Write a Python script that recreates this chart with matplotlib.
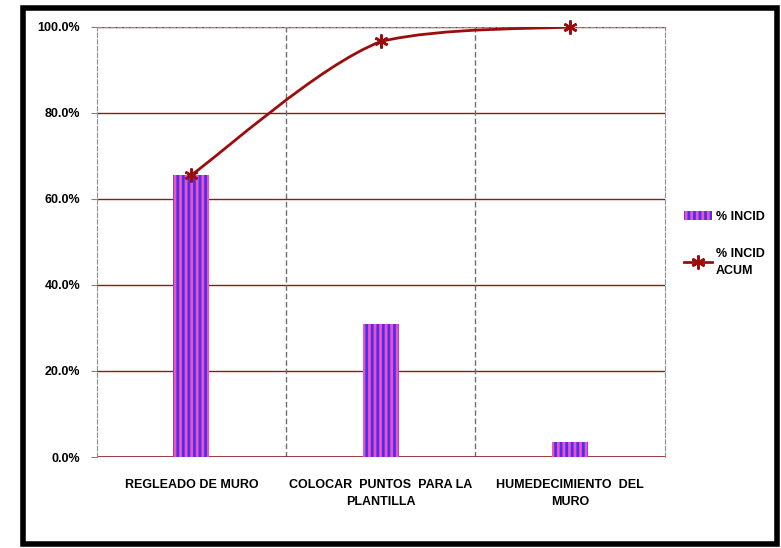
import matplotlib
matplotlib.use("Agg")
import matplotlib.pyplot as plt
from matplotlib.patches import Rectangle
from matplotlib.path import Path
from matplotlib.patches import PathPatch
import numpy as np

plt.rcParams['font.family'] = ['Liberation Sans', 'DejaVu Sans']
plt.rcParams['hatch.linewidth'] = 2.0

categorias = ["REGLEADO DE MURO", "COLOCAR  PUNTOS  PARA LA\nPLANTILLA", "HUMEDECIMIENTO  DEL\nMURO"]
incid = [65.6, 31.0, 3.4]
incid_acum = [65.6, 96.6, 100.0]
yticks = [0, 20, 40, 60, 80, 100]

fig = plt.figure(figsize=(7.81, 5.48), dpi=100)
ax = fig.add_axes([0.124, 0.166, 0.727, 0.785])

x = np.arange(len(categorias))
ax.bar(x, incid, width=0.19, color='#4a30f0', edgecolor='#f050c0', hatch='|||', linewidth=0,
       label='% INCID', zorder=3)

# linea suavizada tipo Excel
def smooth_path(xs, ys, t=0.5):
    verts = [(xs[0], ys[0])]
    codes = [Path.MOVETO]
    n = len(xs)
    for i in range(n - 1):
        x0, y0 = xs[max(i - 1, 0)], ys[max(i - 1, 0)]
        x1, y1 = xs[i], ys[i]
        x2, y2 = xs[i + 1], ys[i + 1]
        x3, y3 = xs[min(i + 2, n - 1)], ys[min(i + 2, n - 1)]
        lo, hi = min(y1, y2), max(y1, y2)
        c1 = (x1 + (x2 - x0) * t / 3, min(max(y1 + (y2 - y0) * t / 3, lo), hi))
        c2 = (x2 - (x3 - x1) * t / 3, min(max(y2 - (y3 - y1) * t / 3, lo), hi))
        verts += [c1, c2, (x2, y2)]
        codes += [Path.CURVE4] * 3
    return Path(verts, codes)

rojo = '#9b0d0d'
ax.add_patch(PathPatch(smooth_path(list(x), incid_acum), fill=False, edgecolor=rojo, linewidth=2, zorder=4))
ax.plot(x, incid_acum, linestyle='none', marker=(6, 2, 0), markersize=10, markeredgewidth=1.8,
        color=rojo, zorder=5, clip_on=False)
ax.plot([], [], color=rojo, linewidth=2, marker=(6, 2, 0), markersize=10, markeredgewidth=1.8,
        label='% INCID\nACUM')

ax.set_xlim(-0.5, 2.5)
ax.set_ylim(0, 100)
ax.set_yticks(yticks)
ax.set_yticklabels([f"{v:.1f}%" for v in yticks], fontsize=9, fontweight='bold')
ax.set_xticks(x)
ax.set_xticklabels(categorias, fontsize=9, fontweight='bold', linespacing=1.5)
ax.tick_params(axis='x', length=0, pad=16)
ax.tick_params(axis='y', length=4, color='#808080', pad=8)

for v in yticks[1:]:
    ax.axhline(v, color='#8b1a1a', linewidth=1, zorder=1)
for v in [0.5, 1.5]:
    ax.axvline(v, color='#707070', linewidth=1, linestyle=(0, (4, 2)), zorder=1)
ax.axhline(0, color='#8b1a1a', linewidth=1.2, zorder=2)

for s in ['top', 'right', 'left']:
    ax.spines[s].set_color('#909090')
    ax.spines[s].set_linestyle((0, (4, 2)))
ax.spines['bottom'].set_visible(False)

handles, labels = ax.get_legend_handles_labels()
orden = [labels.index('% INCID'), labels.index('% INCID\nACUM')]
leg = fig.legend([handles[i] for i in orden], [labels[i] for i in orden],
                 loc='center left', bbox_to_anchor=(0.862, 0.555), frameon=False,
                 prop={'size': 9, 'weight': 'bold'},
                 labelspacing=2.0, handlelength=2.2, handletextpad=0.3)
for t in leg.get_texts():
    t.set_linespacing(1.6)

fig.add_artist(Rectangle((0.029, 0.008), 0.966, 0.978, transform=fig.transFigure,
                         fill=False, edgecolor='black', linewidth=4))

fig.savefig("out.png", dpi=100)
